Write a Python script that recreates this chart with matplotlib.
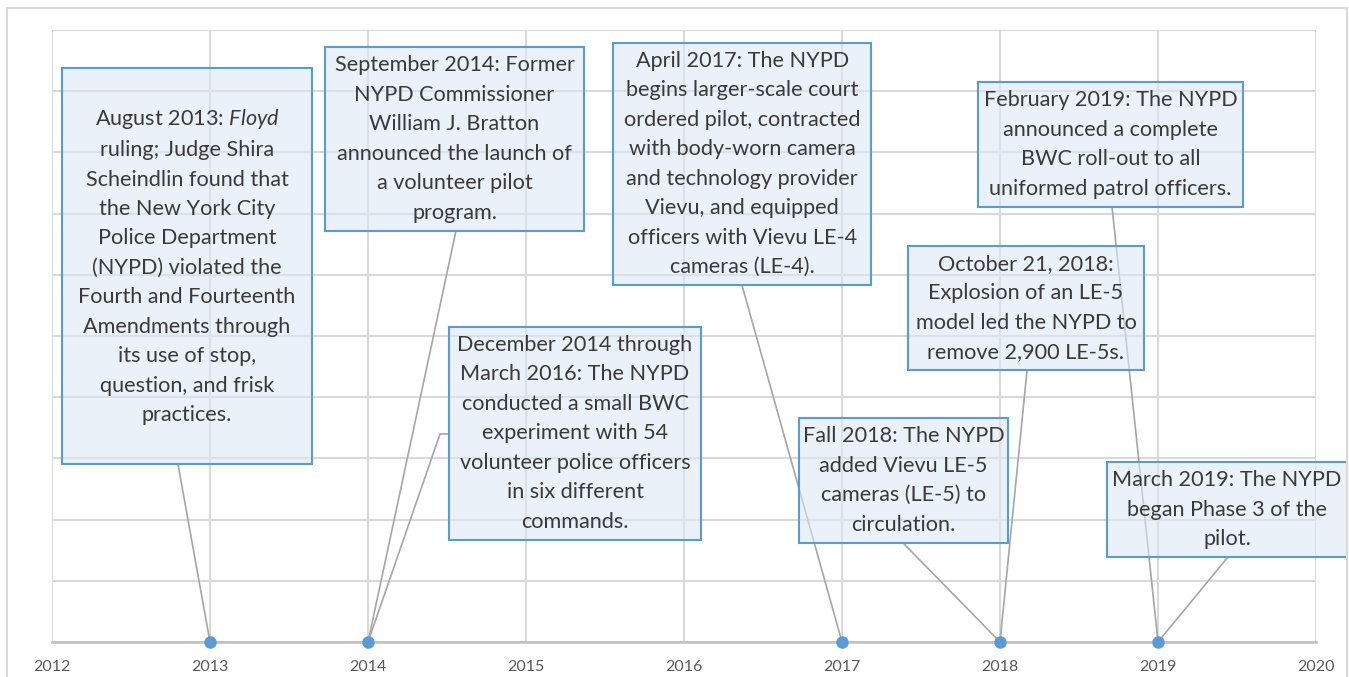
import matplotlib
matplotlib.use("Agg")
import matplotlib.pyplot as plt
from matplotlib.patches import Rectangle

plt.rcParams['font.family'] = ['Lato', 'DejaVu Sans']
plt.rcParams['mathtext.fontset'] = 'custom'
plt.rcParams['mathtext.rm'] = 'Lato'
plt.rcParams['mathtext.it'] = 'Lato:italic'

# timeline events: year of the dot and the callout text
event_years = [2013, 2014, 2014, 2017, 2018, 2018, 2019, 2019]
event_texts = [
    "August 2013: $\\it{Floyd}$\nruling; Judge Shira\nScheindlin found that\nthe New York City\n"
    "Police Department\n(NYPD) violated the\nFourth and Fourteenth\nAmendments through\n"
    "its use of stop,\nquestion, and frisk\npractices.",
    "September 2014: Former\nNYPD Commissioner\nWilliam J. Bratton\nannounced the launch of\n"
    "a volunteer pilot\nprogram.",
    "December 2014 through\nMarch 2016: The NYPD\nconducted a small BWC\nexperiment with 54\n"
    "volunteer police officers\nin six different\ncommands.",
    "April 2017: The NYPD\nbegins larger-scale court\nordered pilot, contracted\nwith body-worn camera\n"
    "and technology provider\nVievu, and equipped\nofficers with Vievu LE-4\ncameras (LE-4).",
    "Fall 2018: The NYPD\nadded Vievu LE-5\ncameras (LE-5) to\ncirculation.",
    "October 21, 2018:\nExplosion of an LE-5\nmodel led the NYPD to\nremove 2,900 LE-5s.",
    "February 2019: The NYPD\nannounced a complete\nBWC roll-out to all\nuniformed patrol officers.",
    "March 2019: The NYPD\nbegan Phase 3 of the\npilot.",
]
dot_years = [2013, 2014, 2017, 2018, 2019]

# callout layout: box (x0, x1, y0, y1) and where the leader leaves the box
boxes = [
    (2012.063, 2013.646, 2.91, 9.38),
    (2013.728, 2015.367, 6.72, 9.72),
    (2014.513, 2016.108, 1.67, 5.15),
    (2015.551, 2017.184, 5.83, 9.79),
    (2016.728, 2018.051, 1.62, 3.66),
    (2017.418, 2018.911, 4.44, 6.47),
    (2017.861, 2019.538, 7.11, 9.15),
    (2018.677, 2020.196, 1.39, 2.94),
]
leaders = [
    [(2012.797, 2.91)],
    [(2014.557, 6.72)],
    [(2014.513, 3.40), (2014.456, 3.40)],
    [(2016.367, 5.83)],
    [(2017.386, 1.62)],
    [(2018.171, 4.44)],
    [(2018.709, 7.11)],
    [(2019.443, 1.39)],
]

W, H = 1349, 677
fig = plt.figure(figsize=(W / 100, H / 100), dpi=100)
fig.patches.append(Rectangle((7 / W, -0.05), 1340 / W, 1 - 8 / H + 0.05,
                             transform=fig.transFigure, fill=False,
                             edgecolor='#d9d9d9', lw=1.5))
ax = fig.add_axes([52 / W, 1 - 642 / H, 1264 / W, 612 / H])
ax.set_xlim(2012, 2020)
ax.set_ylim(0, 10)
ax.set_xticks(range(2012, 2021))
ax.set_yticks(range(0, 11))
ax.set_yticklabels([])
ax.grid(True, color='#d9d9d9', lw=1.5)
ax.set_axisbelow(True)
for s in ['top', 'left', 'right']:
    ax.spines[s].set_visible(False)
ax.spines['bottom'].set_color('#bfbfbf')
ax.spines['bottom'].set_linewidth(1.8)
ax.tick_params(length=0, pad=13, labelsize=11.5, labelcolor='#595959')

for year, text, box, lead in zip(event_years, event_texts, boxes, leaders):
    x0, x1, y0, y1 = box
    xs = [year] + [p[0] for p in lead[::-1]]
    ys = [0] + [p[1] for p in lead[::-1]]
    ax.plot(xs, ys, color='#a6a6a6', lw=1.2, clip_on=False, zorder=3)
    ax.add_patch(Rectangle((x0, y0), x1 - x0, y1 - y0, facecolor='#dce8f5',
                           alpha=0.6, edgecolor='none', clip_on=False, zorder=4))
    ax.add_patch(Rectangle((x0, y0), x1 - x0, y1 - y0, fill=False,
                           edgecolor='#5b9bd5', lw=1.5, clip_on=False, zorder=5))
    ax.text((x0 + x1) / 2, (y0 + y1) / 2, text, ha='center', va='center',
            multialignment='center', fontsize=15.6, color='#3a3a3a',
            linespacing=1.59, zorder=6)

ax.plot(dot_years, [0] * len(dot_years), 'o', color='#5b9bd5', ms=8,
        clip_on=False, zorder=7)

fig.savefig('out.png', dpi=100)
